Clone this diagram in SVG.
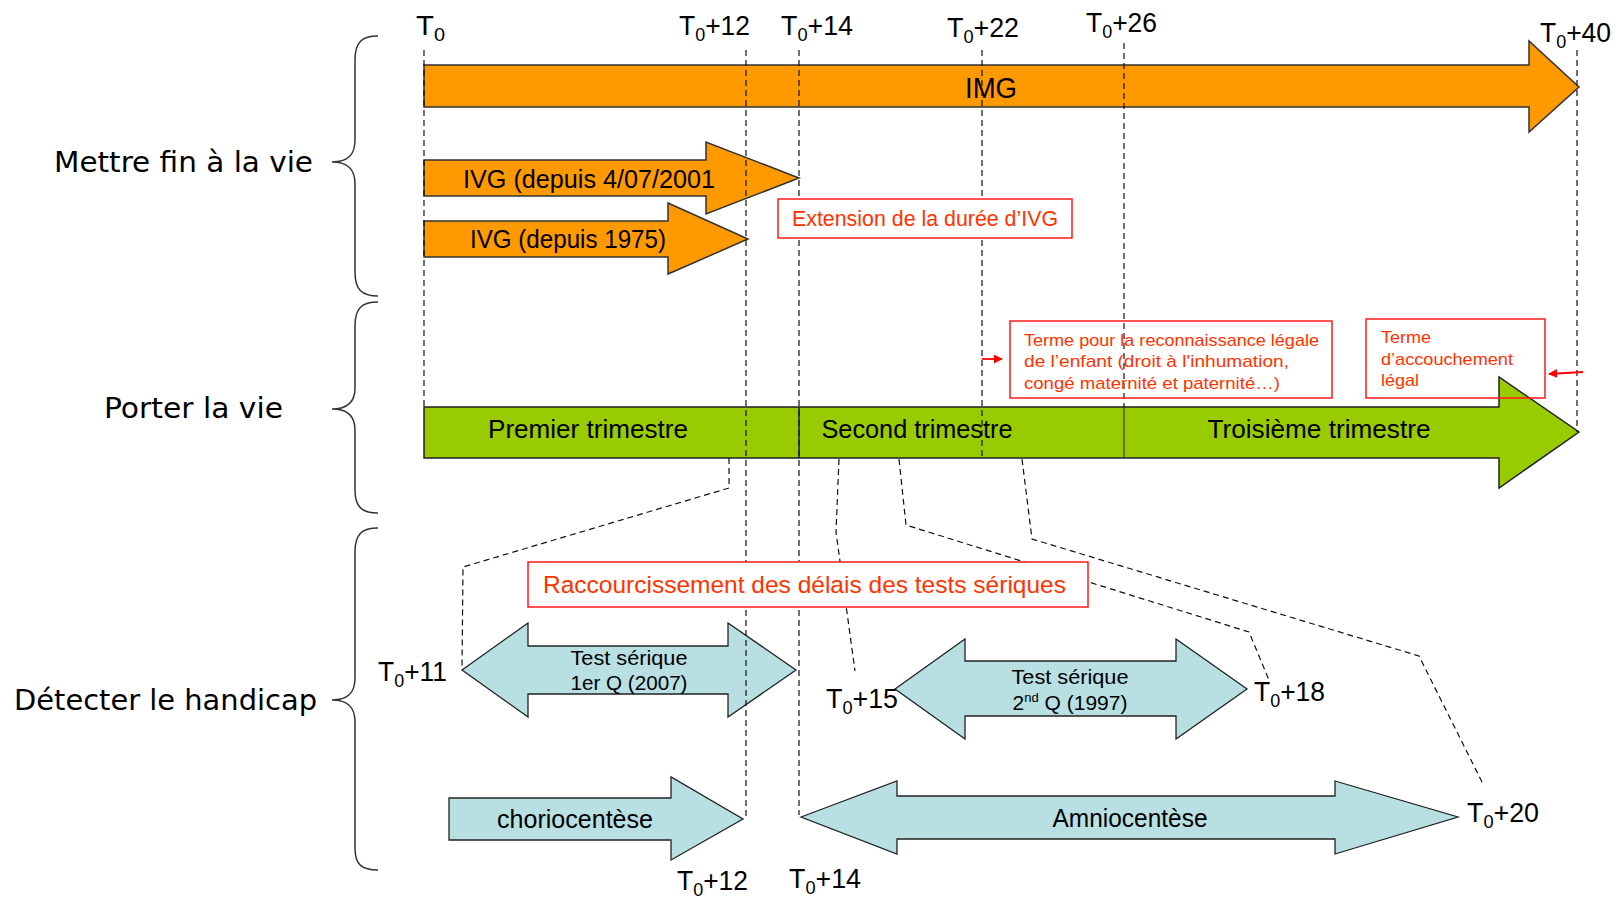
<svg xmlns="http://www.w3.org/2000/svg" width="1618" height="901" viewBox="0 0 1618 901">
<style>
.bg{fill:#ffffff}
.brace{fill:none;stroke:#333;stroke-width:1.5}
.side{font-family:"DejaVu Sans",sans-serif;font-size:29px;fill:#000}
.tl{font-family:"Liberation Sans",Arial,sans-serif;font-size:28px;fill:#000}
.sub{font-size:19px}
.orange{fill:#FF9900;stroke:#333;stroke-width:1.5}
.green{fill:#99CC00;stroke:#222;stroke-width:1.5}
.blue{fill:#B8DFE2;stroke:#222;stroke-width:1.3}
.lbl{font-family:"Liberation Sans",Arial,sans-serif;fill:#000;text-anchor:middle}
.rbox{fill:#fff;stroke:#FF1A1A;stroke-width:1.5}
.rboxn{fill:none;stroke:#FF1A1A;stroke-width:1.5}
.rtxt{font-family:"Liberation Sans",Arial,sans-serif;fill:#FF3300}
.dash{fill:none;stroke:#111;stroke-width:1.2;stroke-dasharray:6 4}
.red{stroke:#FF0000;stroke-width:1.8;fill:none}
</style>
<defs>
<marker id="rh" viewBox="0 0 10 10" refX="9" refY="5" markerWidth="5" markerHeight="5" orient="auto">
<path d="M0,0 L10,5 L0,10 z" fill="#FF0000"/>
</marker>
</defs>
<rect class="bg" x="0" y="0" width="1618" height="901"/>

<g id="braces">
<path class="brace" d="M378,36 C362,36 355,42 355,60 L355,140 C355,155 348,162 332,162 C348,162 355,169 355,184 L355,272 C355,290 362,296 378,296"/>
<path class="brace" d="M378,302 C362,302 355,308 355,326 L355,388 C355,402 348,409 332,409 C348,409 355,416 355,430 L355,490 C355,507 362,513 378,513"/>
<path class="brace" d="M378,528 C362,528 355,534 355,552 L355,678 C355,693 348,700 332,700 C348,700 355,707 355,722 L355,848 C355,865 362,870 378,870"/>
</g>

<g id="side-labels">
<text class="side" x="54" y="172" textLength="259" lengthAdjust="spacingAndGlyphs">Mettre fin à la vie</text>
<text class="side" x="104" y="418" textLength="179" lengthAdjust="spacingAndGlyphs">Porter la vie</text>
<text class="side" x="14" y="710" textLength="303" lengthAdjust="spacingAndGlyphs">Détecter le handicap</text>
</g>

<g id="img">
<path class="orange" d="M424,65 L1529,65 L1529,41 L1579,87 L1529,132 L1529,107 L424,107 Z"/>
<text class="lbl" x="991" y="98" font-size="30" textLength="52" lengthAdjust="spacingAndGlyphs">IMG</text>
</g>

<g id="ivg2001">
<path class="orange" d="M424,160 L706,160 L706,142 L799,178 L706,214 L706,196 L424,196 Z"/>
<text class="lbl" x="589" y="188" font-size="25" textLength="252" lengthAdjust="spacingAndGlyphs">IVG (depuis 4/07/2001</text>
</g>

<g id="ivg1975">
<path class="orange" d="M424,221 L668,221 L668,203 L748,239 L668,274 L668,257 L424,257 Z"/>
<text class="lbl" x="568" y="248" font-size="25" textLength="196" lengthAdjust="spacingAndGlyphs">IVG (depuis 1975)</text>
</g>

<g id="trimestres">
<path class="green" d="M424,407 L1499,407 L1499,377 L1579,432 L1499,488 L1499,458 L424,458 Z"/>
<line x1="799" y1="407" x2="799" y2="458" stroke="#222" stroke-width="1.5"/>
<line x1="1124" y1="407" x2="1124" y2="458" stroke="#222" stroke-width="1"/>
<text class="lbl" x="588" y="438" font-size="26" textLength="200" lengthAdjust="spacingAndGlyphs">Premier trimestre</text>
<text class="lbl" x="917" y="438" font-size="26" textLength="191" lengthAdjust="spacingAndGlyphs">Second trimestre</text>
<text class="lbl" x="1319" y="438" font-size="26" textLength="223" lengthAdjust="spacingAndGlyphs">Troisième trimestre</text>
</g>

<g id="test1">
<path class="blue" d="M462,670 L528,623 L528,646 L728,646 L728,623 L796,670 L728,717 L728,694 L528,694 L528,717 Z"/>
<text class="lbl" x="629" y="665" font-size="21" textLength="117" lengthAdjust="spacingAndGlyphs">Test sérique</text>
<text class="lbl" x="629" y="690" font-size="21" textLength="117" lengthAdjust="spacingAndGlyphs">1er Q (2007)</text>
</g>

<g id="test2">
<path class="blue" d="M895,689 L965,639 L965,661 L1176,661 L1176,639 L1247,689 L1176,739 L1176,716 L965,716 L965,739 Z"/>
<text class="lbl" x="1070" y="684" font-size="21" textLength="117" lengthAdjust="spacingAndGlyphs">Test sérique</text>
<text class="lbl" x="1070" y="710" font-size="21" textLength="115" lengthAdjust="spacingAndGlyphs">2<tspan font-size="13" dy="-8">nd</tspan><tspan dy="8"> Q (1997)</tspan></text>
</g>

<g id="chorio">
<path class="blue" d="M449,798 L671,798 L671,777 L743,819 L671,860 L671,840 L449,840 Z"/>
<text class="lbl" x="575" y="828" font-size="25" textLength="156" lengthAdjust="spacingAndGlyphs">choriocentèse</text>
</g>

<g id="amnio">
<path class="blue" d="M801,817 L897,781 L897,796 L1335,796 L1335,781 L1458,817 L1335,854 L1335,839 L897,839 L897,854 Z"/>
<text class="lbl" x="1130" y="827" font-size="25" textLength="155" lengthAdjust="spacingAndGlyphs">Amniocentèse</text>
</g>

<g id="connectors">
<line class="dash" x1="424" y1="50" x2="424" y2="407"/>
<line class="dash" x1="746" y1="50" x2="746" y2="820"/>
<line class="dash" x1="799" y1="50" x2="799" y2="815"/>
<line class="dash" x1="982" y1="50" x2="982" y2="457"/>
<line class="dash" x1="1124" y1="43" x2="1124" y2="407"/>
<line class="dash" x1="1577" y1="50" x2="1577" y2="432"/>
<polyline class="dash" points="729,458 729,488 463,567 462,670"/>
<polyline class="dash" points="839,459 836,532 855,671"/>
<polyline class="dash" points="899,459 906,525 1249,632 1269,680"/>
<polyline class="dash" points="1022,459 1032,539 1419,656 1483,784"/>
<line class="red" x1="982" y1="359" x2="1002" y2="359" marker-end="url(#rh)"/>
<line class="red" x1="1583" y1="372" x2="1549" y2="374" marker-end="url(#rh)"/>
</g>

<g id="extension">
<rect class="rbox" x="778" y="199" width="294" height="39"/>
<text class="rtxt" x="792" y="226" font-size="22" textLength="266" lengthAdjust="spacingAndGlyphs">Extension de la durée d’IVG</text>
</g>

<g id="raccourcissement">
<rect class="rbox" x="528" y="562" width="560" height="45"/>
<text class="rtxt" x="543" y="593" font-size="24.5" textLength="523" lengthAdjust="spacingAndGlyphs">Raccourcissement des délais des tests sériques</text>
</g>

<g id="terme-reconnaissance">
<rect class="rboxn" x="1010" y="321" width="322" height="77"/>
<text class="rtxt" x="1024" y="346" font-size="17" textLength="295" lengthAdjust="spacingAndGlyphs">Terme pour la reconnaissance légale</text>
<text class="rtxt" x="1024" y="367" font-size="17" textLength="265" lengthAdjust="spacingAndGlyphs">de l’enfant (droit à l'inhumation,</text>
<text class="rtxt" x="1024" y="389" font-size="17" textLength="256" lengthAdjust="spacingAndGlyphs">congé maternité et paternité…)</text>
</g>

<g id="terme-accouchement">
<rect class="rboxn" x="1366" y="319" width="179" height="79"/>
<text class="rtxt" x="1381" y="343" font-size="17" textLength="50" lengthAdjust="spacingAndGlyphs">Terme</text>
<text class="rtxt" x="1381" y="365" font-size="17" textLength="132" lengthAdjust="spacingAndGlyphs">d’accouchement</text>
<text class="rtxt" x="1381" y="386" font-size="17" textLength="38" lengthAdjust="spacingAndGlyphs">légal</text>
</g>

<g id="time-labels">
<text class="tl" x="416" y="35" textLength="29" lengthAdjust="spacingAndGlyphs">T<tspan class="sub" dy="6">0</tspan></text>
<text class="tl" x="679" y="35" textLength="71" lengthAdjust="spacingAndGlyphs">T<tspan class="sub" dy="6">0</tspan><tspan dy="-6">+12</tspan></text>
<text class="tl" x="781" y="35" textLength="72" lengthAdjust="spacingAndGlyphs">T<tspan class="sub" dy="6">0</tspan><tspan dy="-6">+14</tspan></text>
<text class="tl" x="947" y="37" textLength="72" lengthAdjust="spacingAndGlyphs">T<tspan class="sub" dy="6">0</tspan><tspan dy="-6">+22</tspan></text>
<text class="tl" x="1086" y="32" textLength="71" lengthAdjust="spacingAndGlyphs">T<tspan class="sub" dy="6">0</tspan><tspan dy="-6">+26</tspan></text>
<text class="tl" x="1540" y="42" textLength="71" lengthAdjust="spacingAndGlyphs">T<tspan class="sub" dy="6">0</tspan><tspan dy="-6">+40</tspan></text>
<text class="tl" x="378" y="681" textLength="69" lengthAdjust="spacingAndGlyphs">T<tspan class="sub" dy="6">0</tspan><tspan dy="-6">+11</tspan></text>
<text class="tl" x="826" y="708" textLength="72" lengthAdjust="spacingAndGlyphs">T<tspan class="sub" dy="6">0</tspan><tspan dy="-6">+15</tspan></text>
<text class="tl" x="1254" y="701" textLength="71" lengthAdjust="spacingAndGlyphs">T<tspan class="sub" dy="6">0</tspan><tspan dy="-6">+18</tspan></text>
<text class="tl" x="1467" y="822" textLength="72" lengthAdjust="spacingAndGlyphs">T<tspan class="sub" dy="6">0</tspan><tspan dy="-6">+20</tspan></text>
<text class="tl" x="677" y="890" textLength="71" lengthAdjust="spacingAndGlyphs">T<tspan class="sub" dy="6">0</tspan><tspan dy="-6">+12</tspan></text>
<text class="tl" x="789" y="888" textLength="72" lengthAdjust="spacingAndGlyphs">T<tspan class="sub" dy="6">0</tspan><tspan dy="-6">+14</tspan></text>
</g>
</svg>
